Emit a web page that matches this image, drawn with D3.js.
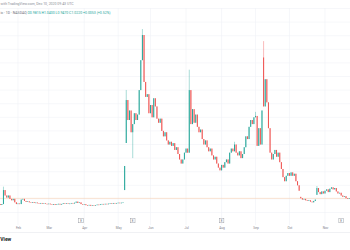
<!DOCTYPE html>
<html>
<head>
<meta charset="utf-8">
<script src="https://cdn.jsdelivr.net/npm/d3@7"></script>
<style>
  html, body { margin: 0; padding: 0; background: #fff; }
  svg { display: block; font-family: Roboto, "Liberation Sans", sans-serif; }
</style>
</head>
<body>
<div id="chart"></div>
<script>
// trading calendar (first bar is 2020-01-16, index -11; 2020-02-03 is index 0)
var firstDay = '2020-01-16';
var holidays = ['2020-01-20', '2020-02-17', '2020-04-10', '2020-05-25', '2020-07-03', '2020-09-07', '2020-11-26'];
var earnings = ['2020-03-30', '2020-05-14', '2020-08-03', '2020-11-16'];
var monthNames = ['Feb', 'Mar', 'Apr', 'May', 'Jun', 'Jul', 'Aug', 'Sep', 'Oct', 'Nov'];

// daily closes (index -11 .. 205)
var closes = [
    0.55, 0.62, 1.65, 1.25, 1.10, 1.25, 1.00, 0.90, 1.00, 0.75, 0.62,
    0.66, 0.62, 0.95, 1.00, 0.85, 0.78, 0.82, 0.75, 0.72, 0.76,
    0.70, 0.73, 0.68, 0.66, 0.70, 0.65, 0.68, 0.64, 0.62, 0.65,
    0.60, 0.57, 0.62, 0.56, 0.60, 0.64, 0.58, 0.63, 0.68, 0.64,
    0.67, 0.63, 0.66, 0.70, 0.66, 0.72, 0.80, 0.70, 0.74, 0.62,
    0.58, 0.61, 0.54, 0.52, 0.56, 0.50, 0.54, 0.51, 0.55, 0.58,
    0.55, 0.60, 0.63, 0.60, 0.64, 0.61, 0.65, 0.68, 0.65, 0.70,
    0.67, 0.70, 0.72, 0.69, 0.72, 0.74, 3.42, 8.27, 6.80, 7.50,
    5.90, 6.50, 7.30, 6.80, 7.20, 9.00, 11.20, 13.05, 9.60, 8.50,
    8.70, 7.30, 7.90, 7.00, 8.40, 7.80, 6.90, 6.60, 6.90, 6.00,
    5.60, 5.90, 5.30, 5.00, 5.20, 4.90, 5.10, 4.60, 4.80, 4.30,
    3.90, 3.60, 3.90, 4.40, 4.70, 4.40, 9.00, 6.50, 7.60, 6.60,
    7.20, 6.30, 5.90, 6.10, 5.40, 5.00, 5.30, 4.80, 4.50, 4.70,
    4.20, 3.90, 4.10, 3.60, 3.30, 3.10, 3.50, 3.30, 3.70, 3.90,
    3.60, 4.40, 4.70, 4.50, 5.00, 4.40, 4.20, 4.50, 4.00, 4.30,
    4.80, 5.60, 5.40, 6.30, 6.80, 6.50, 7.00, 7.10, 4.90, 6.20,
    5.00, 7.50, 7.80, 9.80, 8.10, 6.20, 4.40, 3.90, 4.30, 4.60,
    4.10, 4.40, 3.70, 3.20, 2.60, 2.30, 2.70, 2.90, 2.70, 2.95,
    2.70, 2.85, 2.30, 2.00, 1.60, 1.05, 0.95, 1.00, 0.90, 0.85,
    0.90, 0.80, 0.75, 0.85, 0.95, 1.80, 1.50, 1.35, 1.55, 1.40,
    1.60, 1.70, 1.50, 1.75, 1.85, 1.70, 1.80, 1.55, 1.40, 1.45,
    1.25, 1.15, 1.20, 1.05, 1.00, 1.05
];
// opens that do not follow the previous close (gaps), by bar index
var gapOpens = { '-11': 0.62, '66': 1.65, '67': 5.11, '152': 11.40, '175': 1.15, '185': 1.30 };
// visible wicks
var wickHighs = { '-9': 1.90, '67': 9.01, '77': 13.49, '106': 10.50, '134': 5.20, '147': 7.40, '152': 12.60, '185': 1.95 };
var wickLows = { '71': 4.00 };
var priceLine = 1.04;

var width = 350, height = 250;
var up = '#26a69a', down = '#ef5350';

// build trading days
var parse = d3.timeParse('%Y-%m-%d');
var fmt = d3.timeFormat('%Y-%m-%d');
var days = [];
var d = parse(firstDay);
while (days.length < closes.length) {
    var wd = d.getDay();
    if (wd != 0 && wd != 6 && holidays.indexOf(fmt(d)) < 0) days.push(new Date(d));
    d = d3.timeDay.offset(d, 1);
}
var offset = 11;

var bars = closes.map(function (c, k) {
    var i = k - offset;
    var o = gapOpens[i] != null ? gapOpens[i] : closes[k - 1];
    var h = wickHighs[i] != null ? wickHighs[i] : Math.max(o, c);
    var l = wickLows[i] != null ? wickLows[i] : Math.min(o, c);
    return { i: i, date: days[k], o: o, c: c, h: h, l: l };
});

// first trading day of each month Feb..Nov
var monthTicks = [];
bars.forEach(function (b, k) {
    if (k > 0 && b.date.getMonth() != bars[k - 1].date.getMonth()) monthTicks.push(b.i);
});
var earningIdx = bars.filter(function (b) { return earnings.indexOf(fmt(b.date)) >= 0; })
    .map(function (b) { return b.i; });

var x = d3.scaleLinear().domain([0, 190]).range([18, 325]);
var y = d3.scaleLinear().domain([0, 15]).range([212.5, 8.5]);

var paneTop = 8, paneBottom = 225;

var svg = d3.select('#chart').append('svg')
    .attr('width', width)
    .attr('height', height);

svg.append('defs').append('clipPath').attr('id', 'pane')
    .append('rect').attr('x', 0).attr('y', paneTop).attr('width', width).attr('height', paneBottom - paneTop);

// grid
var grid = svg.append('g').attr('stroke', '#f0f2f6').attr('stroke-width', 0.6);
grid.selectAll('.h').data(y.ticks(15)).enter().append('line')
    .attr('x1', 0).attr('x2', width)
    .attr('y1', function (v) { return y(v); }).attr('y2', function (v) { return y(v); });
grid.selectAll('.v').data(monthTicks).enter().append('line')
    .attr('y1', paneTop).attr('y2', paneBottom)
    .attr('x1', function (v) { return x(v); }).attr('x2', function (v) { return x(v); });

// price line
svg.append('line')
    .attr('x1', 0).attr('x2', width)
    .attr('y1', y(priceLine)).attr('y2', y(priceLine))
    .attr('stroke', '#f6cfb2').attr('stroke-width', 0.6);

// candles
var candles = svg.append('g').attr('clip-path', 'url(#pane)')
    .selectAll('g').data(bars).enter().append('g')
    .attr('fill', function (b) { return b.c >= b.o ? up : down; })
    .attr('stroke', function (b) { return b.c >= b.o ? up : down; });
candles.append('line')
    .attr('x1', function (b) { return x(b.i); }).attr('x2', function (b) { return x(b.i); })
    .attr('y1', function (b) { return y(b.h); }).attr('y2', function (b) { return y(b.l); })
    .attr('stroke-width', 0.4);
candles.append('rect')
    .attr('stroke', 'none')
    .attr('x', function (b) { return x(b.i) - 0.5; })
    .attr('width', 1)
    .attr('y', function (b) { return y(Math.max(b.o, b.c)); })
    .attr('height', function (b) { return Math.max(0.6, Math.abs(y(b.o) - y(b.c))); });

// earnings markers
var em = svg.append('g').selectAll('g').data(earningIdx).enter().append('g')
    .attr('transform', function (v) { return 'translate(' + x(v) + ',220.5)'; });
em.append('rect').attr('x', -2.3).attr('y', -2.3).attr('width', 4.6).attr('height', 4.6)
    .attr('fill', '#fff').attr('stroke', '#8a8d96').attr('stroke-width', 0.4);
em.append('text').text('E').attr('text-anchor', 'middle').attr('y', 1.1)
    .attr('font-size', 3).attr('fill', '#6a6d78');

// time axis
svg.append('line').attr('x1', 0).attr('x2', width).attr('y1', 232.5).attr('y2', 232.5)
    .attr('stroke', '#e6e8ec').attr('stroke-width', 0.6);
var axis = d3.axisBottom(x).tickValues(monthTicks).tickSize(0).tickPadding(0)
    .tickFormat(function (v, k) { return monthNames[k]; });
var ax = svg.append('g').attr('transform', 'translate(0,226.3)').call(axis);
ax.select('.domain').remove();
ax.selectAll('text').attr('font-size', 3.2).attr('fill', '#7d808a').attr('font-family', 'Roboto, sans-serif');

// header (left part is cropped in the source)
svg.append('text').attr('x', 0.5).attr('y', 5)
    .attr('font-size', 3.5).attr('fill', '#8a8d96')
    .text('with TradingView.com, Dec 10, 2020 09:43 UTC');
var h2 = svg.append('text').attr('x', 0.5).attr('y', 13.5).attr('font-size', 3.5);
h2.append('tspan').attr('fill', '#6a6d78').text('ic · 1D · NASDAQ  ');
h2.append('tspan').attr('fill', up).text('O0.9815 H1.0400 L0.9470 C1.0220 +0.0053 (+0.52%)');

// logo fragment
svg.append('text').attr('x', 0.3).attr('y', 241)
    .attr('font-size', 5).attr('font-weight', 'bold').attr('fill', '#131722')
    .text('View');
</script>
</body>
</html>
